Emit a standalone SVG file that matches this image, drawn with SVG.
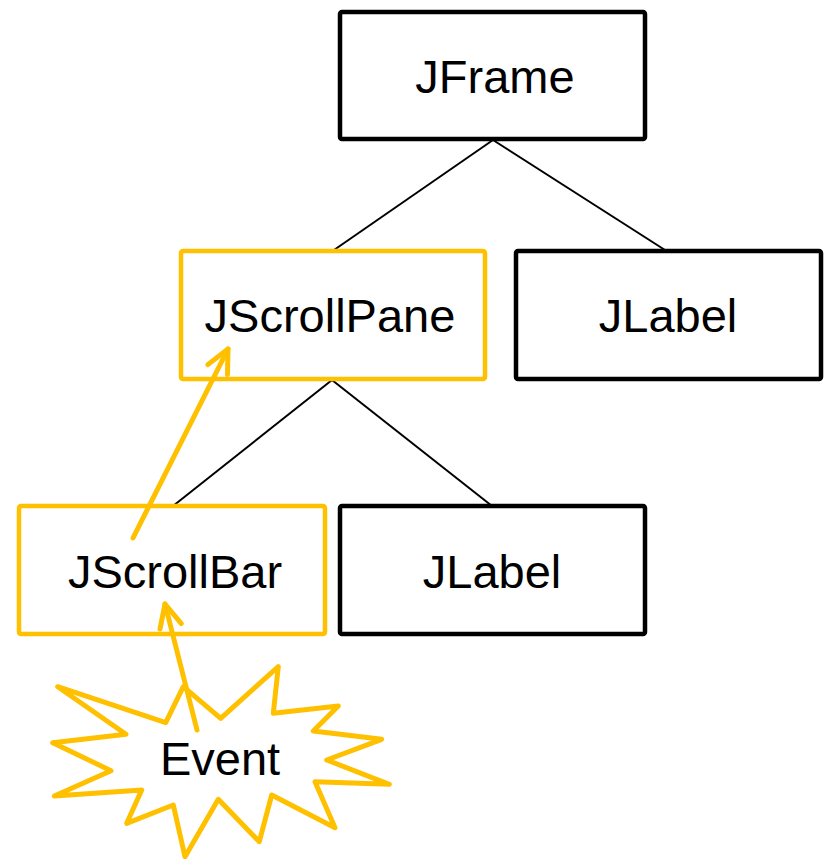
<svg xmlns="http://www.w3.org/2000/svg" width="825" height="859" viewBox="0 0 825 859">
  <style>
    .box { fill: #ffffff; stroke-width: 4.5; stroke-linejoin: round; }
    .plain { stroke: #000000; }
    .hot { stroke: #FFC000; }
    .label { font-family: "Liberation Sans", Arial, sans-serif; font-size: 47px; fill: #000000; text-anchor: middle; }
    .link { stroke: #000000; stroke-width: 2; fill: none; }
    .flow { stroke: #FFC000; stroke-width: 5; fill: none; stroke-linecap: round; }
  </style>
  <defs>
    <marker id="openHead" markerUnits="userSpaceOnUse" orient="auto" markerWidth="40" markerHeight="40" refX="0" refY="0" viewBox="-30 -20 40 40" overflow="visible">
      <path d="M -23,-11 L 0,0 L -23,11" fill="none" stroke="#FFC000" stroke-width="5" stroke-linecap="round" stroke-linejoin="round"/>
    </marker>
  </defs>

  <rect width="825" height="859" fill="#ffffff"/>

  <!-- tree links -->
  <g id="connectors">
    <line class="link" x1="493" y1="140" x2="334" y2="250"/>
    <line class="link" x1="493" y1="140" x2="665" y2="250"/>
    <line class="link" x1="332" y1="380" x2="173" y2="506"/>
    <line class="link" x1="332" y1="380" x2="492" y2="506"/>
  </g>

  <g id="jframe">
    <rect class="box plain" x="340" y="12" width="305" height="127" rx="2"/>
    <text class="label" x="495" y="93">JFrame</text>
  </g>

  <g id="jscrollpane">
    <rect class="box hot" x="181" y="251" width="304" height="128" rx="2"/>
    <text class="label" x="330" y="332">JScrollPane</text>
  </g>

  <g id="jlabel-top">
    <rect class="box plain" x="516" y="251" width="305" height="128" rx="2"/>
    <text class="label" x="668" y="332">JLabel</text>
  </g>

  <g id="jscrollbar">
    <rect class="box hot" x="19" y="506" width="306" height="128" rx="2"/>
    <text class="label" x="175" y="588">JScrollBar</text>
  </g>

  <g id="jlabel-bottom">
    <rect class="box plain" x="340" y="506" width="305" height="128" rx="2"/>
    <text class="label" x="492" y="588">JLabel</text>
  </g>

  <g id="event">
    <polygon points="57.7,686.7 165.7,722.7 183.3,686.7 220.7,718.3 278.3,666.7 273.3,713.3 338.3,706 313.3,731 381.7,739.3 326.7,760 389.3,784.3 315,781.7 335,827.7 271.7,795 259.3,841.7 218.3,799.3 185,856.7 173.3,805 126.7,823.3 141.7,790 54.3,796 111,770.7 52.7,742.7 126,734.3" fill="#ffffff" stroke="#FFC000" stroke-width="5" stroke-linejoin="round"/>
    <text class="label" x="220" y="775">Event</text>
  </g>

  <!-- event propagation -->
  <g id="propagation">
    <line class="flow" x1="197" y1="730" x2="165" y2="604" marker-end="url(#openHead)"/>
    <line class="flow" x1="133" y1="538" x2="228" y2="349" marker-end="url(#openHead)"/>
  </g>
</svg>
